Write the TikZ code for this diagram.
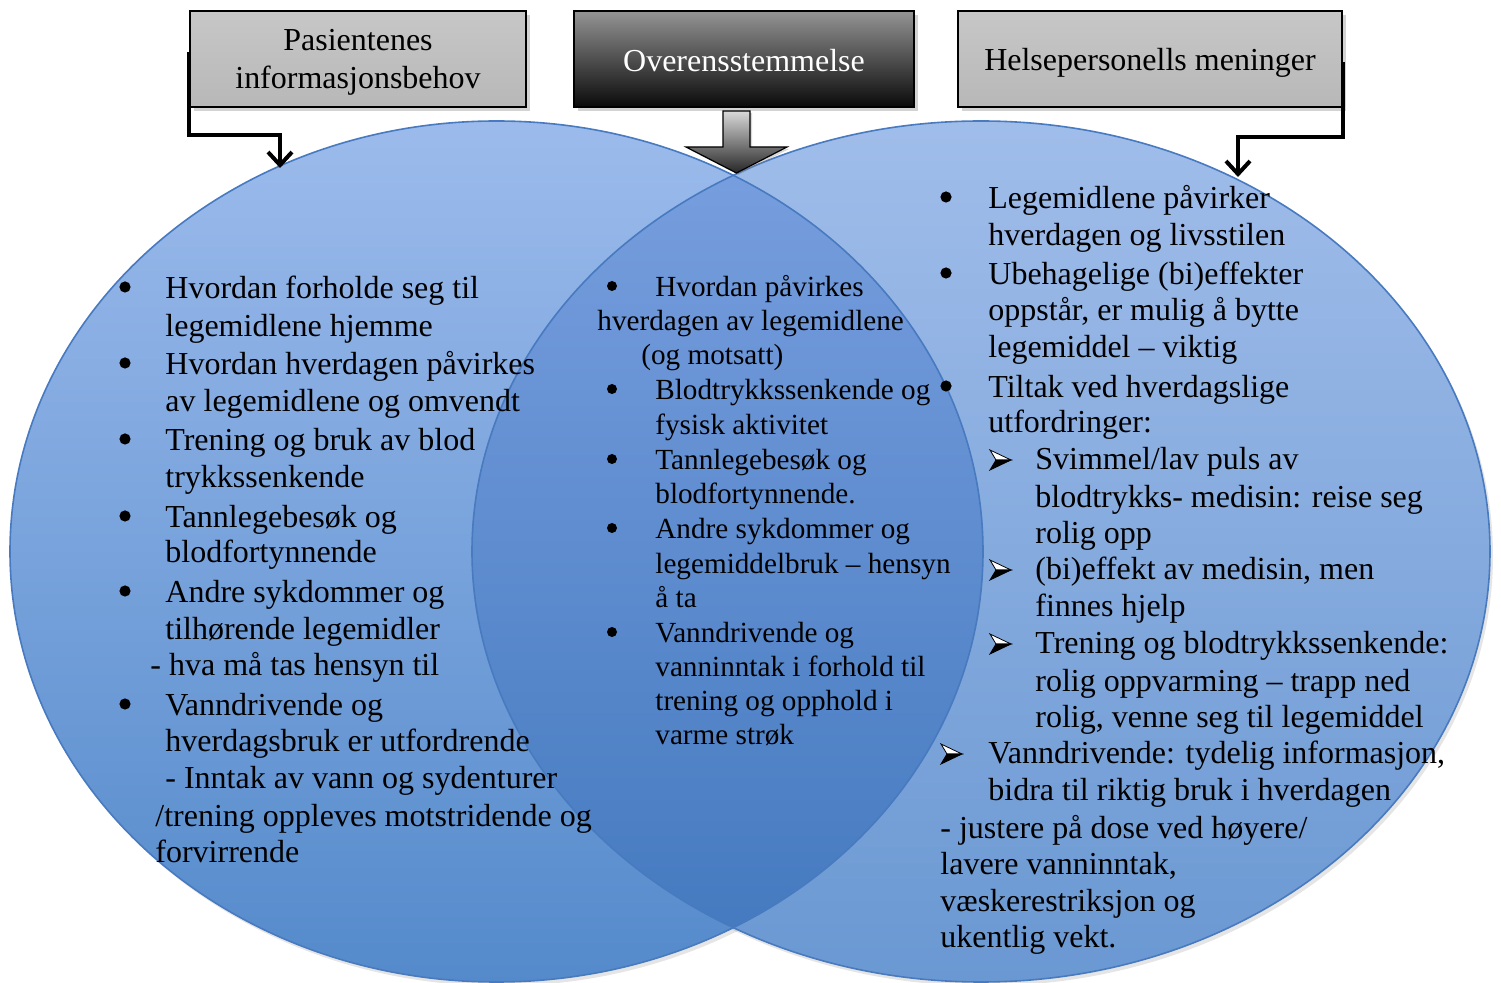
\documentclass[tikz,border=0pt]{standalone}
\usepackage{fontspec}
\setmainfont{Liberation Serif}
\usetikzlibrary{arrows.meta,shadows,calc}
\definecolor{lTop}{RGB}{156,187,236}
\definecolor{lBot}{RGB}{84,138,203}
\definecolor{rTop}{RGB}{160,189,234}
\definecolor{rBot}{RGB}{106,152,210}
\definecolor{mTop}{RGB}{122,160,224}
\definecolor{mBot}{RGB}{66,120,190}
\definecolor{edgecol}{RGB}{72,122,192}
\tikzset{
  big/.style={font=\fontsize{16pt}{19pt}\selectfont, inner sep=0pt, anchor=base west, yshift=-1.5pt},
  small/.style={font=\fontsize{14.6pt}{17pt}\selectfont, inner sep=0pt, anchor=base west, yshift=-1pt},
  bul/.style={circle, fill=black, inner sep=0pt, minimum size=5.6pt, yshift=4.5pt},
  sbul/.style={circle, fill=black, inner sep=0pt, minimum size=5pt, yshift=4.5pt},
  titletext/.style={font=\fontsize{16pt}{19pt}\selectfont, inner sep=0pt, anchor=base},
  titlebox/.style={draw=black, line width=0.8pt, minimum height=48pt,
    drop shadow={shadow xshift=2pt, shadow yshift=-2pt, opacity=0.35}},
  lightbox/.style={titlebox, top color=black!22, middle color=black!6, bottom color=black!28},
  darkbox/.style={titlebox, top color=black!42, middle color=black!72, bottom color=black!96},
  conn/.style={line width=2pt, -{Straight Barb[length=6.5pt,width=12pt]}},
  arrbul/.pic={
    \filldraw[fill=white,draw=black,line width=0.4pt] (21,0)--(0,-10)--(6,0)--cycle;
    \filldraw[fill=black,draw=black,line width=0.4pt] (21,0)--(6,0)--(0,10)--cycle;
  }
}
\begin{document}
\begin{tikzpicture}[x=0.5pt,y=-0.5pt]
\useasboundingbox (0,0) rectangle (1501,983);
% shadows of the ellipses
\fill[black, opacity=0.10] (499.5,555.5) ellipse [x radius=486.5, y radius=430.5];
\fill[black, opacity=0.10] (984,555.5) ellipse [x radius=509, y radius=430.5];
% ellipses
\path[top color=lTop, bottom color=lBot] (496.5,551.5) ellipse [x radius=486.5, y radius=430.5];
\path[top color=rTop, bottom color=rBot] (981,551.5) ellipse [x radius=509, y radius=430.5];
\begin{scope}
  \clip (496.5,551.5) ellipse [x radius=486.5, y radius=430.5];
  \path[top color=mTop, bottom color=mBot] (981,551.5) ellipse [x radius=509, y radius=430.5];
\end{scope}
\draw[edgecol, line width=0.8pt] (496.5,551.5) ellipse [x radius=486.5, y radius=430.5];
\draw[edgecol, line width=0.8pt] (981,551.5) ellipse [x radius=509, y radius=430.5];

% title boxes
\node[lightbox, minimum width=168pt] (b1) at (358,59) {};
\node[darkbox, minimum width=170pt] (b2) at (744,59) {};
\node[lightbox, minimum width=192pt] (b3) at (1150,59) {};
\node[titletext] (t1a) at (358,51) {Pasientenes};
\node[titletext] (t1b) at (358,89) {informasjonsbehov};
\node[titletext, text=white] (t2) at (744,72) {Overensstemmelse};
\node[titletext] (t3) at (1150,71) {Helsepersonells meninger};

% connectors
\coordinate (midL) at (235,135);
\coordinate (tipL) at (280,168);
\draw[conn] ([yshift=3.5pt]b1.west) |- (midL) -| (tipL);
\coordinate (midR) at (1290,137);
\coordinate (tipR) at (1238,177);
\draw[conn] ([yshift=-1.5pt]b3.east) |- (midR) -| (tipR);

% central block arrow
\draw[line width=0.6pt, top color=black!15, bottom color=black!85,
  drop shadow={shadow xshift=1pt, shadow yshift=-1pt, opacity=0.3}]
  (723,111) -- (750,111) -- (750,147) -- (787,147) -- (736.5,173) -- (686,147) -- (723,147) -- cycle;

% left texts
\node[bul] (LB1) at (125,296) {};
\node[big] (L1) at (165,296) {Hvordan forholde seg til};
\node[big] (L2) at (165,334) {legemidlene hjemme};
\node[bul] (LB2) at (125,372) {};
\node[big] (L3) at (165,372) {Hvordan hverdagen påvirkes};
\node[big] (L4) at (165,409) {av legemidlene og omvendt};
\node[bul] (LB3) at (125,448) {};
\node[big] (L5) at (165,448) {Trening og bruk av blod};
\node[big] (L6) at (165,485) {trykkssenkende};
\node[bul] (LB4) at (125,525) {};
\node[big] (L7) at (165,525) {Tannlegebesøk og};
\node[big] (L8) at (165,560) {blodfortynnende};
\node[bul] (LB5) at (125,600) {};
\node[big] (L9) at (165,600) {Andre sykdommer og};
\node[big] (L10) at (165,637) {tilhørende legemidler};
\node[big] (L11) at (150,673) {- hva må tas hensyn til};
\node[bul] (LB6) at (125,713) {};
\node[big] (L12) at (165,713) {Vanndrivende og};
\node[big] (L13) at (165,749) {hverdagsbruk er utfordrende};
\node[big] (L14) at (165,786) {- Inntak av vann og sydenturer};
\node[big] (L15) at (155,824) {/trening oppleves motstridende og};
\node[big] (L16) at (155,860) {forvirrende};

% center texts
\node[sbul] (CB1) at (612,295) {};
\node[small] (C1) at (655,295) {Hvordan påvirkes};
\node[small] (C2) at (597,329) {hverdagen av legemidlene};
\node[small] (C3) at (641,363) {(og motsatt)};
\node[sbul] (CB2) at (612,398) {};
\node[small] (C4) at (655,398) {Blodtrykkssenkende og};
\node[small] (C5) at (655,433) {fysisk aktivitet};
\node[sbul] (CB3) at (612,468) {};
\node[small] (C6) at (655,468) {Tannlegebesøk og};
\node[small] (C7) at (655,502) {blodfortynnende.};
\node[sbul] (CB4) at (612,537) {};
\node[small] (C8) at (655,537) {Andre sykdommer og};
\node[small] (C9) at (655,572) {legemiddelbruk – hensyn};
\node[small] (C10) at (655,606) {å ta};
\node[sbul] (CB5) at (612,641) {};
\node[small] (C11) at (655,641) {Vanndrivende og};
\node[small] (C12) at (655,675) {vanninntak i forhold til};
\node[small] (C13) at (655,709) {trening og opphold i};
\node[small] (C14) at (655,743) {varme strøk};

% right texts
\node[bul] (RB1) at (946,206) {};
\node[big] (R1) at (988,206) {Legemidlene påvirker};
\node[big] (R2) at (988,243) {hverdagen og livsstilen};
\node[bul] (RB2) at (946,282) {};
\node[big] (R3) at (988,282) {Ubehagelige (bi)effekter};
\node[big] (R4) at (988,318) {oppstår, er mulig å bytte};
\node[big] (R5) at (988,355) {legemiddel – viktig};
\node[bul] (RB3) at (946,395) {};
\node[big] (R6) at (988,395) {Tiltak ved hverdagslige};
\node[big] (R7) at (988,430) {utfordringer:};
\pic (A1) at (990,460) {arrbul};
\node[big] (R8) at (1035,467) {Svimmel/lav puls av};
\node[big] (R9) at (1035,505) {blodtrykks- medisin: reise seg};
\node[big] (R10) at (1035,541) {rolig opp};
\pic (A2) at (990,570) {arrbul};
\node[big] (R11) at (1035,577) {(bi)effekt av medisin, men};
\node[big] (R12) at (1035,614) {finnes hjelp};
\pic (A3) at (990,644) {arrbul};
\node[big] (R13) at (1035,651) {Trening og blodtrykkssenkende:};
\node[big] (R14) at (1035,689) {rolig oppvarming – trapp ned};
\node[big] (R15) at (1035,725) {rolig, venne seg til legemiddel};
\pic (A4) at (941,754) {arrbul};
\node[big] (R16) at (988,761) {Vanndrivende: tydelig informasjon,};
\node[big] (R17) at (988,798) {bidra til riktig bruk i hverdagen};
\node[big] (R18) at (940,836) {- justere på dose ved høyere/};
\node[big] (R19) at (940,872) {lavere vanninntak,};
\node[big] (R20) at (940,909) {væskerestriksjon og};
\node[big] (R21) at (940,945) {ukentlig vekt.};
\end{tikzpicture}
\end{document}
